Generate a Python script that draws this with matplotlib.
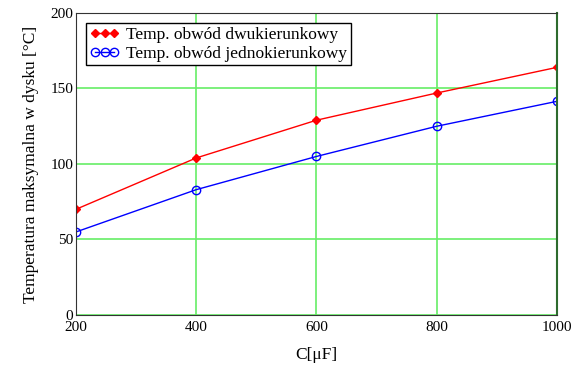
import matplotlib.pyplot as plt

# dane
pojemnosc = [200, 400, 600, 800, 1000]
temp_dwukier = [70, 104, 129, 147, 164]
temp_jednokier = [55, 83, 105, 125, 141.5]

plt.rcParams['font.family'] = ['Liberation Serif', 'DejaVu Serif']

fig = plt.figure(figsize=(5.73, 3.67), dpi=100)
ax = fig.add_axes([0.1326, 0.1417, 0.8394, 0.8229])

ax.plot(pojemnosc, temp_dwukier, color='red', marker='D', markersize=4.5,
        linewidth=1, label='Temp. obwód dwukierunkowy')
ax.plot(pojemnosc, temp_jednokier, color='blue', marker='o', markersize=6,
        markerfacecolor='none', linewidth=1, label='Temp. obwód jednokierunkowy')

ax.set_xlim(200, 1000)
ax.set_ylim(0, 200)
ax.set_xticks([200, 400, 600, 800, 1000])
ax.set_yticks([0, 50, 100, 150, 200])
ax.grid(True, color='#66ee66', linewidth=1.2)
ax.set_axisbelow(True)
ax.tick_params(length=0, labelsize=11)
ax.tick_params(axis='x', pad=4)
ax.tick_params(axis='y', pad=2)

for s in ['left', 'bottom', 'top']:
    ax.spines[s].set_color('#333333')
ax.spines['right'].set_color('#2e6b2e')
ax.spines['right'].set_linewidth(1.5)

ax.set_xlabel('C[μF]', fontsize=12.5, labelpad=10)
ax.set_ylabel('Temperatura maksymalna w dysku [°C]', fontsize=12.5, labelpad=8)

leg = ax.legend(loc='upper left', numpoints=3, fontsize=12.5, frameon=True,
                fancybox=False, edgecolor='black', framealpha=1,
                borderpad=0.2, handlelength=1.7, handletextpad=0.4,
                labelspacing=0.15, borderaxespad=0.6)
leg.get_frame().set_linewidth(1)

fig.savefig('out.png', dpi=100)
